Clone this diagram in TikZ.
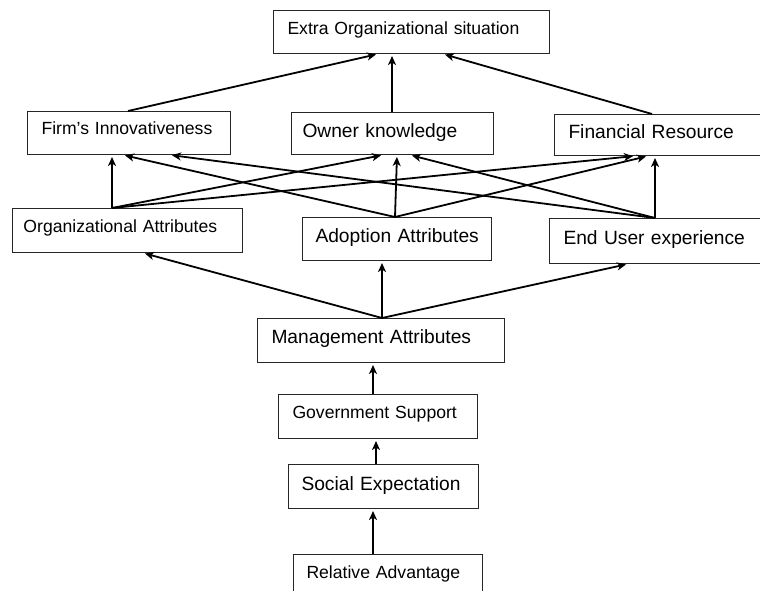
\documentclass[tikz,border=0pt]{standalone}
\usepackage{fontspec}
\setmainfont{Liberation Sans}
\usetikzlibrary{arrows.meta}
\tikzset{
  box/.style={draw=black!85, line width=1pt, anchor=north west, inner sep=0pt, align=left},
  smalltext/.style={font=\fontsize{17.6}{20}\selectfont},
  largetext/.style={font=\fontsize{19.2}{22}\selectfont},
  link/.style={line width=1.8pt, -{Stealth[length=9pt,width=8pt,inset=2.5pt]}, shorten >=2pt},
}
\begin{document}
\begin{tikzpicture}[x=1pt, y=-1pt]
  \useasboundingbox (0,0) rectangle (760,591);

  % Top level
  \node[box, smalltext, text width=276pt, text height=24pt, text depth=19pt] (extra) at (273,10) {\hspace*{14pt}Extra Organizational situation};

  % Second row
  \node[box, smalltext, text width=203pt, text height=23pt, text depth=20pt] (firm) at (27,111) {\hspace*{14pt}Firm's Innovativeness};
  \node[box, largetext, text width=202pt, text height=25pt, text depth=17pt] (owner) at (291,112) {\hspace*{11pt}Owner knowledge};
  \node[box, largetext, text width=214pt, text height=24pt, text depth=17pt] (fin) at (554,114) {\hspace*{14pt}Financial Resource};

  % Third row
  \node[box, smalltext, text width=230pt, text height=24pt, text depth=20pt] (org) at (12,208) {\hspace*{11pt}Organizational Attributes};
  \node[box, largetext, text width=189pt, text height=25pt, text depth=18pt] (adopt) at (302,217) {\hspace*{13pt}Adoption Attributes};
  \node[box, largetext, text width=219pt, text height=26pt, text depth=19pt] (enduser) at (549,218) {\hspace*{14pt}End User experience};

  % Chain at the bottom
  \node[box, largetext, text width=247pt, text height=25pt, text depth=19pt] (mgmt) at (257,318) {\hspace*{14pt}Management Attributes};
  \node[box, smalltext, text width=199pt, text height=24pt, text depth=20pt] (govt) at (278,394) {\hspace*{14pt}Government Support};
  \node[box, largetext, text width=190pt, text height=26pt, text depth=18pt] (social) at (288,464) {\hspace*{13pt}Social Expectation};
  \node[box, smalltext, text width=189pt, text height=24pt, text depth=30pt] (rel) at (293,554) {\hspace*{13pt}Relative Advantage};

  % Arrows to the top box
  \draw[link] ([xshift=101pt]firm.north west) -- ([xshift=105pt]extra.south west);
  \draw[link] ([xshift=101pt]owner.north west) -- ([xshift=119pt]extra.south west);
  \draw[link] ([xshift=98pt]fin.north west) -- ([xshift=170pt]extra.south west);

  % Arrows from the third row
  \draw[link] ([xshift=100pt]org.north west) -- ([xshift=85pt]firm.south west);
  \draw[link] ([xshift=100pt]org.north west) -- ([xshift=92pt]owner.south west);
  \draw[link] ([xshift=100pt]org.north west) -- ([xshift=81pt]fin.south west);
  \draw[link] ([xshift=93pt]adopt.north west) -- ([xshift=96pt]firm.south west);
  \draw[link] ([xshift=93pt]adopt.north west) -- ([xshift=106pt]owner.south west);
  \draw[link] ([xshift=93pt]adopt.north west) -- ([xshift=94pt]fin.south west);
  \draw[link] ([xshift=106pt]enduser.north west) -- ([xshift=143pt]firm.south west);
  \draw[link] ([xshift=106pt]enduser.north west) -- ([xshift=119pt]owner.south west);
  \draw[link] ([xshift=106pt]enduser.north west) -- ([xshift=101pt]fin.south west);

  % Arrows from management
  \draw[link] ([xshift=125pt]mgmt.north west) -- ([xshift=131pt]org.south west);
  \draw[link] ([xshift=125pt]mgmt.north west) -- ([xshift=80pt]adopt.south west);
  \draw[link] ([xshift=125pt]mgmt.north west) -- ([xshift=79pt]enduser.south west);

  % Chain
  \draw[link] ([xshift=95pt]govt.north west) -- ([xshift=116pt]mgmt.south west);
  \draw[link] ([xshift=88pt]social.north west) -- ([xshift=98pt]govt.south west);
  \draw[link] ([xshift=80pt]rel.north west) -- ([xshift=85pt]social.south west);
\end{tikzpicture}
\end{document}
